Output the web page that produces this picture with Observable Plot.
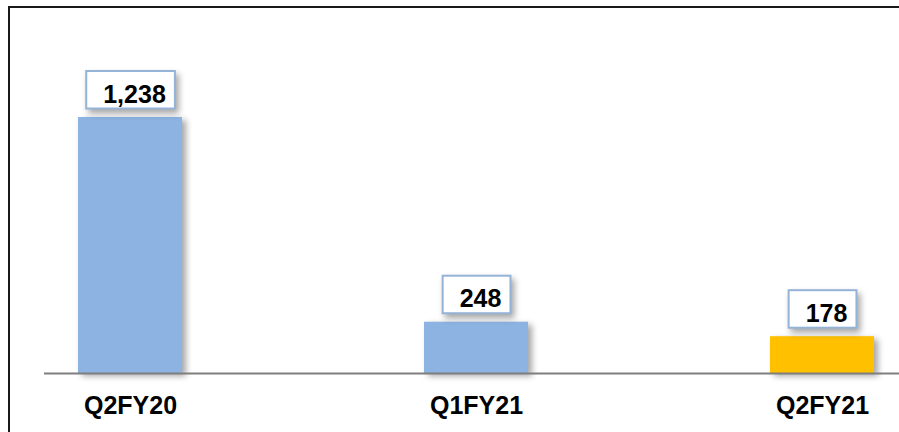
<!DOCTYPE html>
<html><head><meta charset="utf-8">
<script src="https://cdn.jsdelivr.net/npm/d3@7"></script>
<script src="https://cdn.jsdelivr.net/npm/@observablehq/plot@0.6"></script>
<style>
body{margin:0;background:#fff;overflow:hidden;font-family:"Liberation Sans",Arial,sans-serif}
#wrap{position:relative;width:899px;height:432px;overflow:hidden}
#wrap svg{position:absolute;left:0;top:0}
#border{position:absolute;left:8px;top:6px;width:2000px;height:2000px;border-left:2px solid #1a1a1a;border-top:2px solid #1a1a1a;pointer-events:none}
</style></head>
<body><div id="wrap"><div id="border"></div></div>
<script>
const categories = ["Q2FY20", "Q1FY21", "Q2FY21"];
const values = [1238, 248, 178];
const highlight = "Q2FY21";

const data = categories.map((c, i) => ({category: c, value: values[i]}));
const fmt = d3.format(",");
const BLUE = "#8db3e2", GOLD = "#ffc000";

const chart = Plot.plot({
  width: 899, height: 432,
  marginTop: 117, marginBottom: 59, marginLeft: 44, marginRight: 0,
  style: {fontFamily: "'Liberation Sans', Arial, sans-serif", background: "transparent"},
  x: {domain: categories, range: [44, 908], paddingInner: 0.7, paddingOuter: 0.0985, label: null},
  y: {domain: [0, 1238], axis: null},
  color: {type: "identity"},
  marks: [
    Plot.barY(data, {x: "category", y: "value", fill: d => d.category === highlight ? GOLD : BLUE}),
    Plot.ruleY([0], {stroke: "#7f7f7f", strokeWidth: 2}),
    Plot.text(data, {x: "category", y: "value", text: d => fmt(d.value), dy: -15, dx: 4,
      lineAnchor: "bottom", fontSize: 25, fontWeight: "bold", fill: "#000"}),
    Plot.axisX({tickSize: 0, tickPadding: 23, fontSize: 25, fontWeight: "bold", fill: "#000", label: null})
  ]
});
document.getElementById("wrap").appendChild(chart);

// drop shadows
const bars = chart.querySelector('g[aria-label="bar"]');
if (bars) bars.style.filter = "drop-shadow(4px 3px 3px rgba(0,0,0,0.35))";

// label boxes behind the value text
const tg = chart.querySelector('g[aria-label="text"]');
if (tg) {
  const svgRect = chart.getBoundingClientRect();
  const ns = "http://www.w3.org/2000/svg";
  const boxes = document.createElementNS(ns, "g");
  boxes.setAttribute("aria-label", "label boxes");
  boxes.style.filter = "drop-shadow(3px 4px 3px rgba(0,0,0,0.35))";
  tg.querySelectorAll("text").forEach(t => {
    const r = t.getBoundingClientRect();
    const x = r.x - svgRect.x, y = r.y - svgRect.y;
    const cx = x + r.width / 2 - 4;
    const w = r.width + 26;
    const rect = document.createElementNS(ns, "rect");
    rect.setAttribute("x", cx - w / 2);
    rect.setAttribute("y", y - 8.5);
    rect.setAttribute("width", w);
    rect.setAttribute("height", r.height + 9.5);
    rect.setAttribute("fill", "#fff");
    rect.setAttribute("stroke", "#95b3d7");
    rect.setAttribute("stroke-width", 2);
    boxes.appendChild(rect);
  });
  tg.parentNode.insertBefore(boxes, tg);
}
</script>
</body></html>
